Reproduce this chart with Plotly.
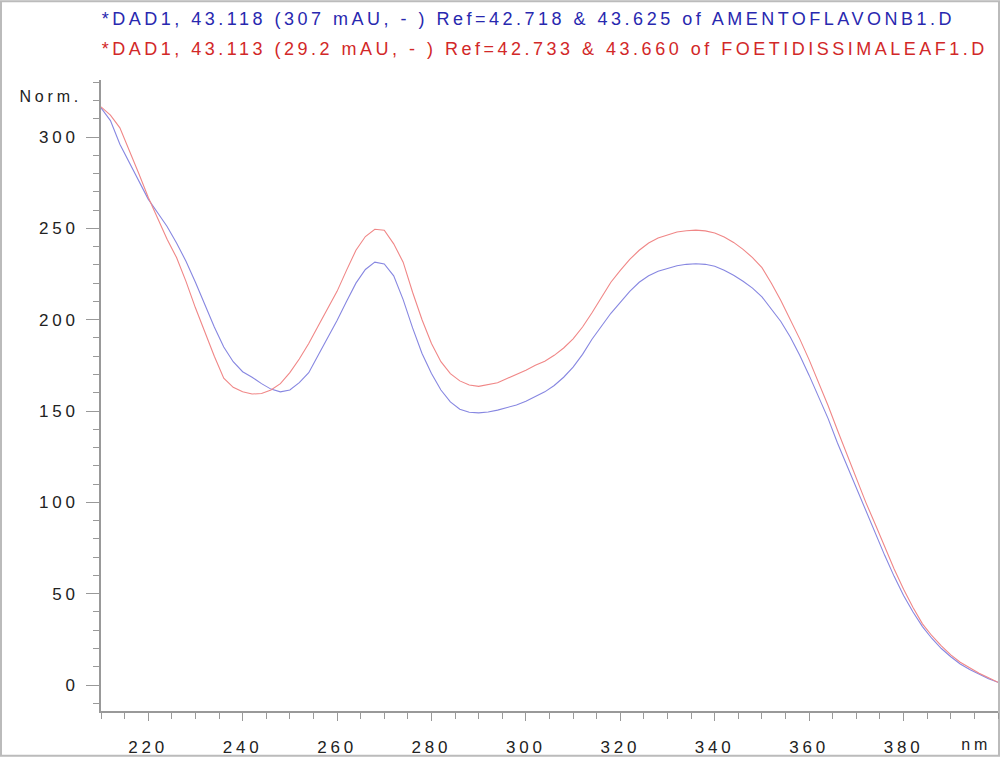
import plotly.graph_objects as go

wavelength = [210, 212, 214, 216, 218, 220, 222, 224, 226, 228, 230, 232, 234, 236, 238, 240,
              242, 244, 246, 248, 250, 252, 254, 256, 258, 260, 262, 264, 266, 268, 270, 272,
              274, 276, 278, 280, 282, 284, 286, 288, 290, 292, 294, 296, 298, 300, 302, 304,
              306, 308, 310, 312, 314, 316, 318, 320, 322, 324, 326, 328, 330, 332, 334, 336,
              338, 340, 342, 344, 346, 348, 350, 352, 354, 356, 358, 360, 362, 364, 366, 368,
              370, 372, 374, 376, 378, 380, 382, 384, 386, 388, 390, 392, 394, 396, 398, 400]

amentoflavon = [316, 309, 296, 286, 276, 266, 258.5, 251, 242, 232, 220.5, 208, 196, 185, 177, 171.5,
                168.5, 165, 162, 160.5, 161.5, 165.5, 171, 180.5, 190, 199.5, 210, 220, 227.5, 231.5, 230.5, 224,
                211, 195.5, 181.5, 170.5, 161.5, 155, 151, 149.3, 149, 149.5, 150.5, 151.7, 153.3, 155.3, 157.8, 160.5,
                164, 168.5, 174, 181, 189.3, 196.5, 203.5, 209.5, 215.5, 220.5, 224, 226.5, 228.2, 229.5, 230.3, 230.6,
                230.3, 229.3, 227, 224.3, 221, 217.3, 212.5, 206, 199, 190.5, 180.5, 169.5, 158, 146, 132.5, 120,
                108, 96, 83.5, 71, 59.5, 49, 40, 32, 25.5, 20, 15.5, 11.5, 8.5, 5.8, 3.5, 1.5]

foetidissima = [316.5, 312, 305, 293, 280, 267, 255, 244, 234, 221, 206.5, 193, 180, 168, 163, 160.5,
                159.3, 159.6, 161.5, 165, 171, 178.5, 187, 196.5, 206, 215.5, 227, 238, 245.5, 249.5, 249, 241.5,
                231.5, 215, 200, 187, 177, 170.5, 166.5, 164.2, 163.5, 164.3, 165.5, 167.8, 170, 172.3, 175, 177.3,
                180.5, 184.5, 189.5, 196, 203.8, 212, 220.5, 227, 233, 238, 242, 244.7, 246.5, 248, 248.7, 249,
                248.6, 247.5, 245.2, 242.3, 238.5, 234, 228.5, 220, 210.5, 200, 189.5, 178, 166, 153, 139.5, 126,
                112.5, 100, 88, 75.5, 63.5, 52.5, 42.5, 33.5, 27, 21.5, 16.5, 12.5, 9.5, 6.5, 4, 1.5]

x_tick_vals = [220, 240, 260, 280, 300, 320, 340, 360, 380]
y_tick_vals = [0, 50, 100, 150, 200, 250, 300]

title_blue = "*DAD1, 43.118 (307 mAU, - ) Ref=42.718 & 43.625 of AMENTOFLAVONB1.D"
title_red = "*DAD1, 43.113 (29.2 mAU, - ) Ref=42.733 & 43.660 of FOETIDISSIMALEAF1.D"

W, H = 1000, 759
L, R, T, B = 101, 2, 80, 46
pw, ph = W - L - R, H - T - B
LS = 3.8    # letter spacing of axis texts, px
LS_T = 3.5  # letter spacing of the two header lines, px

FONT = "Liberation Sans, Arial, sans-serif"

fig = go.Figure()
fig.add_trace(go.Scatter(x=wavelength, y=amentoflavon, mode="lines",
                         line=dict(color="rgb(135,135,225)", width=1.1), name="AMENTOFLAVONB1"))
fig.add_trace(go.Scatter(x=wavelength, y=foetidissima, mode="lines",
                         line=dict(color="rgb(240,135,135)", width=1.1), name="FOETIDISSIMALEAF1"))

fig.update_layout(
    width=W, height=H,
    margin=dict(l=L, r=R, t=T, b=B),
    paper_bgcolor="white", plot_bgcolor="white",
    showlegend=False,
    font=dict(family=FONT, size=17, color="#222"),
    xaxis=dict(range=[210, 400], showgrid=False, zeroline=False,
               showline=True, linecolor="#999", linewidth=1.5,
               tickmode="array", tickvals=x_tick_vals,
               ticks="outside", ticklen=8, tickcolor="#999", tickwidth=1.2,
               ticklabelstandoff=12,
               tickfont=dict(family=FONT, size=17, color="#222"),
               minor=dict(dtick=5, tick0=210, ticks="outside", ticklen=6, tickcolor="#999", tickwidth=1.2)),
    yaxis=dict(range=[-14.2, 331.2], showgrid=False, zeroline=False,
               showline=True, linecolor="#999", linewidth=1.5,
               tickmode="array", tickvals=y_tick_vals,
               ticks="outside", ticklen=13, tickcolor="#999", tickwidth=1.2,
               ticklabelstandoff=4,
               tickfont=dict(family=FONT, size=17, color="#222"),
               minor=dict(dtick=10, tick0=0, ticks="outside", ticklen=6, tickcolor="#999", tickwidth=1.2)),
)

def px_x(p):
    return (p - L) / pw

def px_y(p):
    return (H - B - p) / ph

fig.add_annotation(text=title_blue, xref="paper", yref="paper",
                   x=px_x(100 + len(title_blue) * LS_T / 2), y=px_y(19),
                   xanchor="left", yanchor="middle", showarrow=False,
                   font=dict(family=FONT, size=18, color="rgb(40,40,175)"))
fig.add_annotation(text=title_red, xref="paper", yref="paper",
                   x=px_x(100 + len(title_red) * LS_T / 2), y=px_y(49),
                   xanchor="left", yanchor="middle", showarrow=False,
                   font=dict(family=FONT, size=18, color="rgb(210,40,40)"))
fig.add_annotation(text="Norm.", xref="paper", yref="paper",
                   x=px_x(17 + 5 * LS / 2), y=px_y(97),
                   xanchor="left", yanchor="middle", showarrow=False,
                   font=dict(family=FONT, size=16, color="#222"))
fig.add_annotation(text="nm", xref="paper", yref="paper",
                   x=px_x(993 - 2 * LS / 2), y=px_y(747),
                   xanchor="right", yanchor="middle", showarrow=False,
                   font=dict(family=FONT, size=16, color="#222"))

fig.add_shape(type="rect", xref="paper", yref="paper",
              x0=px_x(1), x1=px_x(999), y0=px_y(758), y1=px_y(1),
              line=dict(color="#bbb", width=2), fillcolor="rgba(0,0,0,0)", layer="below")

post = ("var s=document.createElement('style');"
        "s.textContent='html,body{margin:0;padding:0;overflow:hidden}"
        ".main-svg text{letter-spacing:" + str(LS) + "px}"
        ".main-svg .annotation[data-index=\"0\"] text,"
        ".main-svg .annotation[data-index=\"1\"] text{letter-spacing:" + str(LS_T) + "px}';"
        "document.head.appendChild(s);")

fig.write_html("out.html", post_script=post, config={"displayModeBar": False})
